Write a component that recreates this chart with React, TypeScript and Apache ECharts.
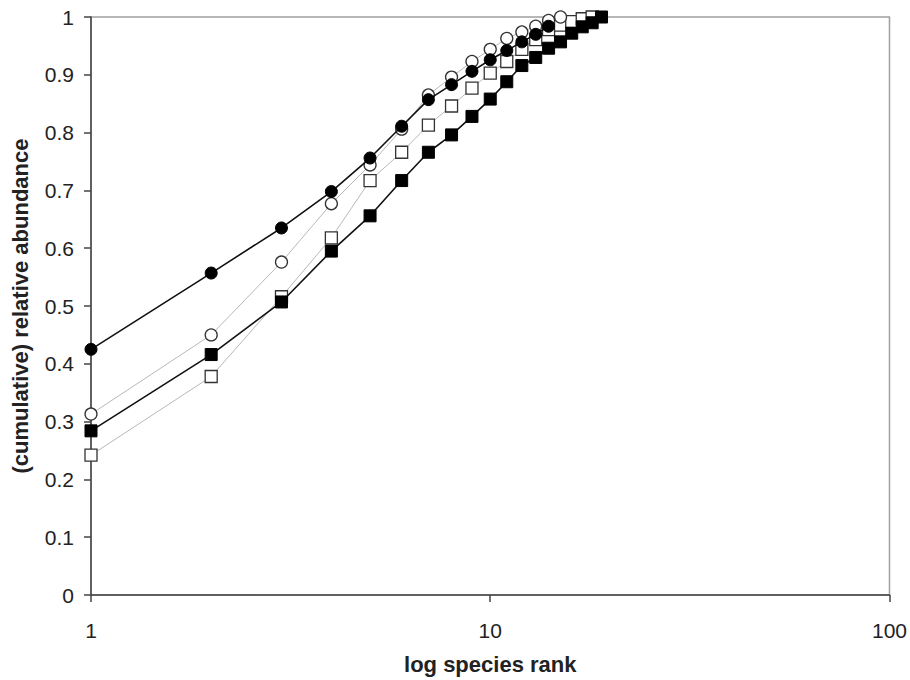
import React, { useEffect, useRef } from "react";
import * as echarts from "echarts";

// cumulative relative abundance by species rank (rank = index + 1)
const filledCircles = [0.425, 0.557, 0.635, 0.698, 0.756, 0.811, 0.857, 0.883, 0.906, 0.926, 0.942, 0.957, 0.970, 0.984];
const openCircles = [0.313, 0.45, 0.576, 0.677, 0.744, 0.806, 0.865, 0.896, 0.923, 0.944, 0.963, 0.974, 0.984, 0.994, 1.0];
const filledSquares = [0.284, 0.416, 0.507, 0.595, 0.656, 0.717, 0.766, 0.796, 0.828, 0.858, 0.888, 0.916, 0.93, 0.946, 0.957, 0.972, 0.983, 0.99, 1.0];
const openSquares = [0.242, 0.378, 0.516, 0.618, 0.717, 0.766, 0.813, 0.846, 0.877, 0.903, 0.923, 0.944, 0.961, 0.978, 0.986, 0.992, 0.997, 1.0];

const xTickValues = [1, 10, 100];
const yTickLabels = ["0", "0.1", "0.2", "0.3", "0.4", "0.5", "0.6", "0.7", "0.8", "0.9", "1"];

const toPoints = (vals: number[]) => vals.map((v, i) => [i + 1, v]);

const FONT = "'Liberation Sans', Arial, sans-serif";

export default function App() {
  const ref = useRef<HTMLDivElement>(null);
  useEffect(() => {
    if (!ref.current) return;
    const chart = echarts.init(ref.current, undefined, { renderer: "svg" });
    const openStyle = (symbol: string) => ({
      type: "line" as const,
      symbol,
      symbolSize: 12,
      lineStyle: { color: "#b8b8b8", width: 1 },
      itemStyle: { color: "#ffffff", borderColor: "#333", borderWidth: 1.3 },
    });
    const filledStyle = (symbol: string) => ({
      type: "line" as const,
      symbol,
      symbolSize: 12,
      lineStyle: { color: "#111", width: 1.6 },
      itemStyle: { color: "#000", borderColor: "#000", borderWidth: 1 },
    });
    chart.setOption({
      animation: false,
      grid: {
        left: 91,
        right: 19,
        top: 17,
        bottom: 84,
        show: true,
        borderColor: "#a0a0a0",
        borderWidth: 1.5,
        backgroundColor: "transparent",
      },
      xAxis: {
        type: "log",
        logBase: 10,
        min: xTickValues[0],
        max: xTickValues[xTickValues.length - 1],
        name: "log species rank",
        nameLocation: "middle",
        nameGap: 58,
        nameTextStyle: { fontFamily: FONT, fontSize: 22, fontWeight: "bold", color: "#222" },
        axisLine: { show: true, onZero: false, lineStyle: { color: "#444", width: 1.5 } },
        axisTick: { show: true, inside: false, length: 7, lineStyle: { color: "#444", width: 1.5 } },
        minorTick: { show: false },
        splitLine: { show: false },
        axisLabel: { fontFamily: FONT, fontSize: 21, color: "#222", margin: 25 },
      },
      yAxis: {
        type: "value",
        min: 0,
        max: 1,
        interval: 0.1,
        name: "(cumulative) relative abundance",
        nameLocation: "middle",
        nameGap: 60,
        nameTextStyle: { fontFamily: FONT, fontSize: 22, fontWeight: "bold", color: "#222" },
        axisLine: { show: true, lineStyle: { color: "#444", width: 1.5 } },
        axisTick: { show: true, inside: false, length: 7, lineStyle: { color: "#444", width: 1.5 } },
        splitLine: { show: false },
        axisLabel: {
          fontFamily: FONT,
          fontSize: 21,
          color: "#222",
          margin: 17,
          formatter: (v: number) => yTickLabels[Math.round(v * 10)] ?? String(v),
        },
      },
      series: [
        { ...openStyle("rect"), name: "open squares", data: toPoints(openSquares), z: 2 },
        { ...openStyle("circle"), name: "open circles", data: toPoints(openCircles), z: 3 },
        { ...filledStyle("rect"), name: "filled squares", data: toPoints(filledSquares), z: 4 },
        { ...filledStyle("circle"), name: "filled circles", data: toPoints(filledCircles), z: 5 },
      ],
    });
    return () => chart.dispose();
  }, []);
  return (
    <div
      ref={ref}
      style={{ position: "fixed", left: 0, top: 0, width: 910, height: 680, background: "#fff" }}
    />
  );
}
